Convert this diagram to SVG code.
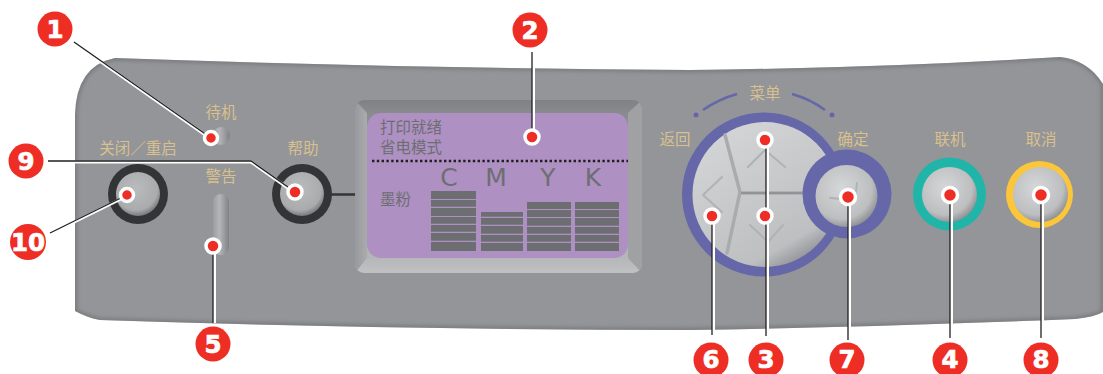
<svg xmlns="http://www.w3.org/2000/svg" width="1103" height="374" viewBox="0 0 1103 374">
<style>
.lb{font-family:"Noto Sans CJK SC","Noto Sans",sans-serif;font-size:15.5px;fill:#d9c08e;text-anchor:middle}
.lcd{font-family:"Noto Sans CJK SC","Noto Sans",sans-serif;font-size:15.5px;fill:#6d6e71}
.ink{font-family:"DejaVu Sans","Noto Sans",sans-serif;font-size:25px;fill:#6d6e71;text-anchor:middle}
.num{font-family:"DejaVu Sans",sans-serif;font-weight:700;font-size:24.5px;fill:#fff;stroke:#fff;stroke-width:0.7;text-anchor:middle}
.bad{fill:#ee2e24}
.dot{fill:#ee2e24;stroke:#fff;stroke-width:3.5}
.cw{fill:none;stroke:#fff;stroke-width:3}
.ck{fill:none;stroke:#231f20;stroke-width:1.3}
.bar{fill:#6d6e71}
.gr{fill:none;stroke:#a9abad;stroke-width:3.5;stroke-linecap:round;stroke-linejoin:round}
.gd{fill:none;stroke:#8a8c8f;stroke-width:1.5}
.ch{fill:none;stroke:#b0b2b4;stroke-width:2;stroke-linejoin:round;stroke-linecap:round}
</style>
<defs>
<radialGradient id="b" cx="0.42" cy="0.38" r="0.68"><stop offset="0" stop-color="#d6d7d9"/><stop offset="0.72" stop-color="#bcbec0"/><stop offset="0.92" stop-color="#939598"/><stop offset="1" stop-color="#77787b"/></radialGradient>
<radialGradient id="bd" cx="0.45" cy="0.38" r="0.68"><stop offset="0" stop-color="#b9bbbd"/><stop offset="0.72" stop-color="#a9abad"/><stop offset="0.92" stop-color="#77787b"/><stop offset="1" stop-color="#4d4e50"/></radialGradient>
<linearGradient id="big" x1="0.15" y1="0.05" x2="0.7" y2="1"><stop offset="0" stop-color="#d4d5d7"/><stop offset="0.85" stop-color="#bdbfc1"/><stop offset="1" stop-color="#8d8f92"/></linearGradient>
<linearGradient id="wl" x1="0" y1="0" x2="1" y2="0"><stop offset="0" stop-color="#9b9da0"/><stop offset="0.4" stop-color="#b4b6b8"/><stop offset="1" stop-color="#808285"/></linearGradient>
<linearGradient id="wd" x1="0" y1="0" x2="1" y2="0"><stop offset="0" stop-color="#97999c"/><stop offset="1" stop-color="#a9abad"/></linearGradient>
<linearGradient id="bz" x1="0" y1="0" x2="0" y2="1"><stop offset="0" stop-color="#808184"/><stop offset="0.08" stop-color="#8a8b8e"/><stop offset="0.9" stop-color="#b3b5b7"/><stop offset="1" stop-color="#bfc1c3"/></linearGradient>
<filter id="bl" x="-5%" y="-20%" width="110%" height="140%"><feGaussianBlur stdDeviation="2"/></filter>
<clipPath id="pc"><path d="M75 115Q76 66 115 58Q400 68 690 70Q880 68 1060 57Q1088 60 1103 84V312Q1095 317 1075 319Q880 327 690 330Q400 330 100 320Q88 318 75 311Z"/></clipPath>
<clipPath id="bc"><rect x="355" y="100" width="287" height="173" rx="9"/></clipPath>
</defs>
<g id="panel">
<path d="M75 115Q76 66 115 58Q400 68 690 70Q880 68 1060 57Q1088 60 1103 84V312Q1095 317 1075 319Q880 327 690 330Q400 330 100 320Q88 318 75 311Z" fill="#939598"/>
<g clip-path="url(#pc)"><path d="M75 115Q76 66 115 58Q400 68 690 70Q880 68 1060 57Q1088 60 1103 84V312Q1095 317 1075 319Q880 327 690 330Q400 330 100 320Q88 318 75 311Z" fill="none" stroke="#6d6e71" stroke-width="3" filter="url(#bl)"/></g>
</g>
<g id="lcd">
<rect x="355" y="100" width="287" height="173" rx="9" fill="url(#bz)"/>
<g clip-path="url(#bc)">
<path d="M355 100L367 113V258L355 273Z" fill="url(#wd)"/>
<path d="M642 100L628 113V258L642 273Z" fill="#9fa1a3"/>
</g>
<rect x="367" y="113" width="261" height="145" rx="14" fill="#ae90c3"/>
<text class="lcd" x="380" y="133">打印就绪</text>
<text class="lcd" x="380" y="153">省电模式</text>
<line x1="372" y1="161" x2="628" y2="161" stroke="#231f20" stroke-width="2.4" stroke-dasharray="2.4 2.4"/>
<text class="lcd" x="380" y="205">墨粉</text>
<text class="ink" x="449" y="186">C</text><text class="ink" x="496" y="186">M</text><text class="ink" x="548" y="186">Y</text><text class="ink" x="593" y="186">K</text>
<g class="bar">
<rect x="431" y="191" width="45" height="8"/><rect x="431" y="200" width="45" height="6.7"/><rect x="431" y="208" width="45" height="8"/><rect x="431" y="217" width="45" height="6.7"/><rect x="431" y="225" width="45" height="6.7"/><rect x="431" y="233" width="45" height="7.7"/><rect x="431" y="242" width="45" height="9"/>
<rect x="481" y="212" width="42" height="4.7"/><rect x="481" y="218" width="42" height="6.7"/><rect x="481" y="226" width="42" height="7.7"/><rect x="481" y="235" width="42" height="6.7"/><rect x="481" y="243" width="42" height="8"/>
<rect x="527" y="202" width="44" height="7"/><rect x="527" y="210" width="44" height="7"/><rect x="527" y="218" width="44" height="7.7"/><rect x="527" y="227" width="44" height="6.7"/><rect x="527" y="235" width="44" height="6.7"/><rect x="527" y="243" width="44" height="8"/>
<rect x="575" y="202" width="44" height="7"/><rect x="575" y="210" width="44" height="7"/><rect x="575" y="218" width="44" height="7.7"/><rect x="575" y="227" width="44" height="6.7"/><rect x="575" y="235" width="44" height="6.7"/><rect x="575" y="243" width="44" height="8"/>
</g>
</g>
<g id="standby"><text class="lb" x="221" y="118">待机</text><circle cx="221" cy="136" r="9" fill="url(#wl)"/></g>
<g id="warning"><text class="lb" x="221" y="182">警告</text><rect x="213" y="194" width="16" height="61" rx="8" fill="url(#wl)"/></g>
<g id="power"><text class="lb" x="138" y="154">关闭／重启</text><circle cx="138" cy="194" r="30" fill="#333435"/><circle cx="138" cy="194" r="22" fill="url(#bd)"/></g>
<g id="help"><text class="lb" x="303" y="154">帮助</text><line x1="330" y1="194.5" x2="355" y2="194.5" stroke="#333435" stroke-width="2.5"/><circle cx="302" cy="194" r="30" fill="#333435"/><circle cx="302" cy="194" r="22" fill="url(#bd)"/></g>
<g id="menu">
<text class="lb" x="765" y="99">菜单</text>
<path d="M703 110Q719 99 737 94M792 94Q810 99 825 110" fill="none" stroke="#6567a9" stroke-width="2.5"/>
<circle cx="696" cy="115" r="2.5" fill="#6567a9"/><circle cx="832" cy="115" r="2.5" fill="#6567a9"/>
<text class="lb" x="675" y="145">返回</text>
<text class="lb" x="853" y="145">确定</text>
<circle cx="764" cy="194.5" r="82" fill="#6567a9"/>
<circle cx="765" cy="194.5" r="72.5" fill="url(#big)"/>
<path class="gr" d="M725 135L740 192L727 253M740 193H802"/>
<path class="gd" d="M741 193H802"/>
<path class="ch" d="M748 167L765 150L785 167M750 225L768 242L783 225M722 177L703 195L722 212"/>
<circle cx="847" cy="194" r="44.5" fill="#6567a9"/>
<circle cx="846.5" cy="196" r="31" fill="url(#b)"/>
<path class="ch" d="M857 183L855 200L830 198"/>
</g>
<g id="online"><text class="lb" x="950" y="145">联机</text><circle cx="949.5" cy="194" r="36.5" fill="#1fb5a8"/><circle cx="949.5" cy="194.5" r="27.5" fill="url(#b)"/></g>
<g id="cancel"><text class="lb" x="1041" y="145">取消</text><circle cx="1039.5" cy="194.5" r="33.5" fill="#fcc63b"/><circle cx="1040.5" cy="194.5" r="27.5" fill="url(#b)"/></g>
<g id="connectors">
<path class="cw" d="M74 43L211 139M48 162H251L295 193M50 234L127 196M214.5 323V246M713.5 335V216M767.5 336V140M849.5 340V197M951.5 338V195M1042.5 338V195M533.5 52V137"/>
<path class="ck" d="M74 42L211 138M48 161H251L295 192M50 233L127 195M213 323V246M712 335V216M766 336V140M848 340V197M950 338V195M1041 338V195M532 52V137"/>
</g>
<g id="callout-1"><circle class="dot" cx="211" cy="138" r="6.5"/><circle class="bad" cx="55" cy="29" r="17.5"/><text class="num" x="55" y="37.5">1</text></g>
<g id="callout-2"><circle class="dot" cx="532" cy="137" r="7"/><circle class="bad" cx="530" cy="30" r="17.5"/><text class="num" x="530" y="38.5">2</text></g>
<g id="callout-3"><circle class="dot" cx="765" cy="140" r="7"/><circle class="dot" cx="765" cy="216" r="7"/><circle class="bad" cx="766" cy="360" r="17.5"/><text class="num" x="766" y="368">3</text></g>
<g id="callout-4"><circle class="dot" cx="950" cy="195" r="7.5"/><circle class="bad" cx="950" cy="360" r="17.5"/><text class="num" x="950" y="368">4</text></g>
<g id="callout-5"><circle class="dot" cx="213" cy="246" r="7"/><circle class="bad" cx="213" cy="344" r="17.5"/><text class="num" x="213" y="352.5">5</text></g>
<g id="callout-6"><circle class="dot" cx="712" cy="216" r="7"/><circle class="bad" cx="711" cy="360" r="17.5"/><text class="num" x="711" y="368">6</text></g>
<g id="callout-7"><circle class="dot" cx="848" cy="197" r="7.5"/><circle class="bad" cx="847" cy="360" r="17.5"/><text class="num" x="847" y="368">7</text></g>
<g id="callout-8"><circle class="dot" cx="1041" cy="195" r="7.5"/><circle class="bad" cx="1041" cy="360" r="17.5"/><text class="num" x="1041" y="368">8</text></g>
<g id="callout-9"><circle class="dot" cx="295" cy="192" r="7"/><circle class="bad" cx="26" cy="161" r="17.5"/><text class="num" x="26" y="169.5">9</text></g>
<g id="callout-10"><circle class="dot" cx="127" cy="195" r="6.5"/><circle class="bad" cx="28" cy="242" r="18"/><text class="num" x="28" y="250.5">10</text></g>
</svg>
